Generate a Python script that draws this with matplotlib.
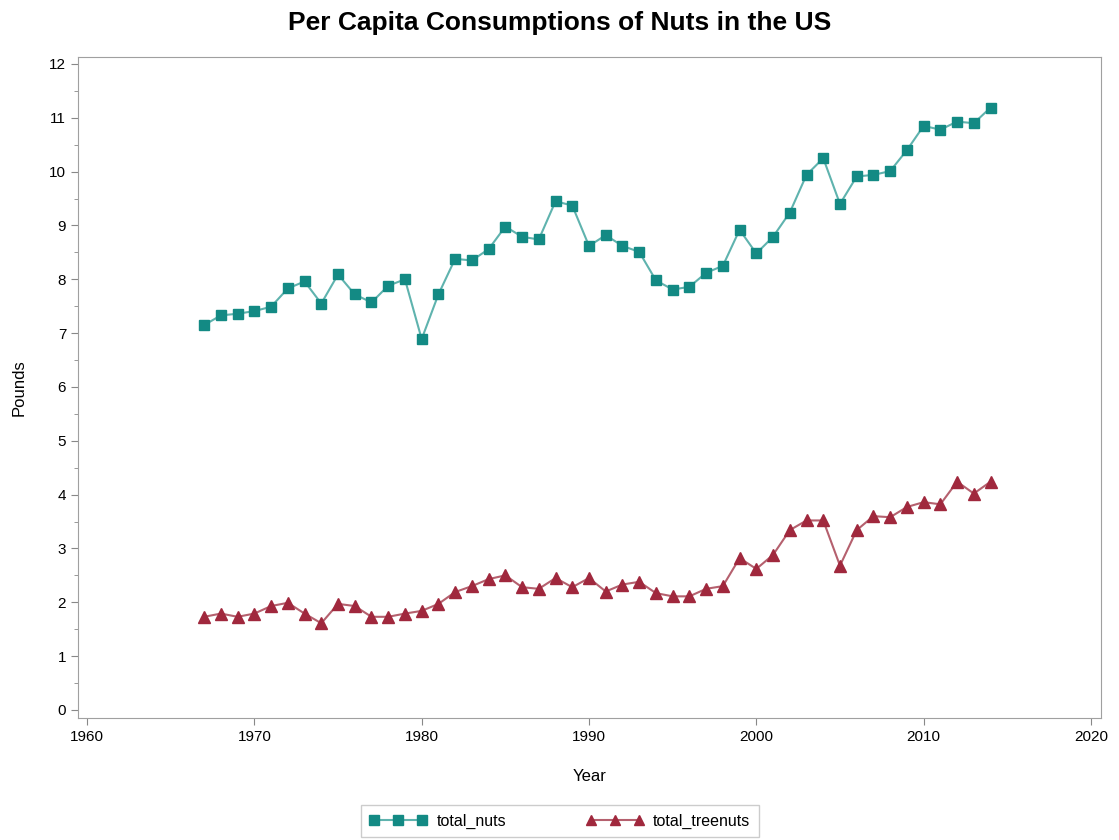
import matplotlib
matplotlib.use("Agg")
from matplotlib import pyplot as plt
from matplotlib.ticker import MultipleLocator

years = list(range(1967, 2015))
total_nuts = [7.15, 7.33, 7.36, 7.41, 7.49, 7.83, 7.96, 7.55, 8.09, 7.72,
              7.57, 7.88, 8.00, 6.89, 7.72, 8.38, 8.35, 8.56, 8.98, 8.79,
              8.74, 9.45, 9.37, 8.62, 8.82, 8.62, 8.51, 7.98, 7.81, 7.86,
              8.12, 8.25, 8.92, 8.48, 8.79, 9.24, 9.94, 10.25, 9.40, 9.91,
              9.94, 10.01, 10.40, 10.85, 10.78, 10.93, 10.90, 11.19]
total_treenuts = [1.73, 1.79, 1.73, 1.79, 1.93, 1.99, 1.79, 1.61, 1.97, 1.93,
                  1.73, 1.73, 1.79, 1.84, 1.97, 2.19, 2.30, 2.43, 2.50, 2.28,
                  2.25, 2.45, 2.28, 2.45, 2.20, 2.33, 2.38, 2.17, 2.11, 2.11,
                  2.25, 2.30, 2.82, 2.62, 2.88, 3.34, 3.52, 3.52, 2.68, 3.34,
                  3.60, 3.58, 3.77, 3.86, 3.82, 4.24, 4.02, 4.24]

plt.rcParams['font.family'] = ['Liberation Sans', 'DejaVu Sans']

fig = plt.figure(figsize=(11.19, 8.4), dpi=100)
ax = fig.add_axes([78 / 1119, 1 - 718 / 840, (1101 - 78) / 1119, (718 - 57) / 840])

ax.plot(years, total_nuts, color='#5fb3ae', lw=1.5, marker='s', ms=7.5,
        mfc='#138a84', mec='#138a84', label='total_nuts')
ax.plot(years, total_treenuts, color='#b5606e', lw=1.5, marker='^', ms=8,
        mfc='#a0283d', mec='#a0283d', label='total_treenuts')

ax.set_xlim(1959.46, 2020.6)
ax.set_ylim(-0.15, 12.13)
ax.xaxis.set_major_locator(MultipleLocator(10))
ax.yaxis.set_major_locator(MultipleLocator(1))
ax.yaxis.set_minor_locator(MultipleLocator(0.5))
ax.tick_params(axis='both', which='major', labelsize=11, color='#888888', length=5)
ax.tick_params(axis='y', which='minor', color='#888888', length=3)
for s in ax.spines.values():
    s.set_color('#a0a0a0')

ax.set_xlabel('Year', fontsize=12, labelpad=18)
ax.set_ylabel('Pounds', fontsize=12, labelpad=16)
fig.suptitle('Per Capita Consumptions of Nuts in the US', fontsize=19,
             fontweight='bold', y=0.987)

leg = fig.legend(loc='center', bbox_to_anchor=(560 / 1119, 1 - 821 / 840), ncol=2,
                 fontsize=11.5, frameon=True, fancybox=False, edgecolor='#c0c0c0',
                 columnspacing=5, handlelength=3.6, markerscale=0.9, numpoints=3,
                 borderpad=0.55, handletextpad=0.6)
leg.get_frame().set_linewidth(1)

fig.savefig("out.png", dpi=100)
